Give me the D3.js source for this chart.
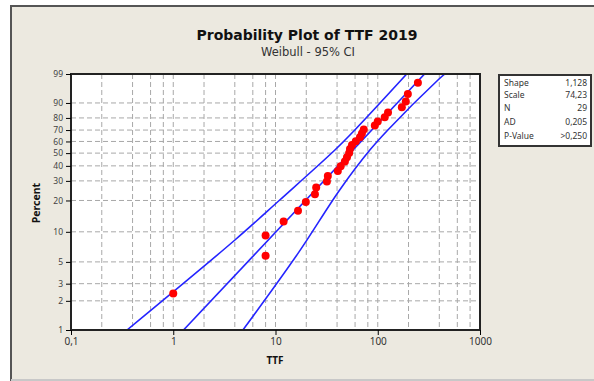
<!DOCTYPE html>
<html>
<head>
<meta charset="utf-8">
<script src="https://cdn.jsdelivr.net/npm/d3@7"></script>
<style>
  body { margin: 0; background: #fff; }
  svg { display: block; font-family: 'Noto Sans', sans-serif; }
</style>
</head>
<body>
<svg width="594" height="381"></svg>
<script>
// failure times (TTF) and median-rank percents
const ttf = [1, 8, 8, 12, 16.6, 19.8, 24.3, 25, 31.8, 32.5, 40.7, 43.4, 47.7, 50, 52.5,
    53.5, 56, 61, 67, 70, 73, 93.6, 100, 117, 126, 172, 188, 197, 247];
const pct = [2.38, 5.78, 9.18, 12.59, 15.99, 19.39, 22.79, 26.19, 29.59, 32.99, 36.39, 39.8,
    43.2, 46.6, 50, 53.4, 56.8, 60.2, 63.61, 67.01, 70.41, 73.81, 77.21, 80.61, 84.01,
    87.41, 90.82, 94.22, 97.62];

// fitted line and confidence bands, [TTF, percent]
const fitLine = [[1.26, 1], [287, 99]];
const upperCI = [[0.353, 1], [4.01, 8.3], [11, 20.2], [38.1, 52.6], [59.7, 70.1], [192, 99]];
const lowerCI = [[4.8, 1], [16.6, 6.1], [42.6, 25.1], [83.7, 52.6], [125.6, 70.1], [386, 98.1], [453, 99]];

const yTicks = [1, 2, 3, 5, 10, 20, 30, 40, 50, 60, 70, 80, 90, 99];
const xTicks = [0.1, 1, 10, 100, 1000];
const xGrid = [0.2, 0.4, 0.6, 0.8, 1, 2, 4, 6, 8, 10, 20, 40, 60, 80, 100, 200, 400, 600, 800];

const statNames = ['Shape', 'Scale', 'N', 'AD', 'P-Value'];
const statValues = ['1,128', '74,23', '29', '0,205', '>0,250'];

const svg = d3.select('svg');
const pl = 71, pr = 480, pt = 74, pb = 330;

// weibull probability scale
const wb = p => Math.log(-Math.log(1 - p / 100));
const x = d3.scaleLog().domain([0.1, 1000]).range([pl, pr]);
const yw = d3.scaleLinear().domain([wb(1), wb(99)]).range([pb, pt]);
const y = p => yw(wb(p));

// panel
svg.append('rect')
    .attr('x', 11).attr('y', 6).attr('width', 600).attr('height', 374)
    .attr('fill', '#ece9e0')
    .attr('stroke', '#555').attr('stroke-width', 2);
svg.append('line')
    .attr('x1', 11).attr('x2', 594).attr('y1', 380).attr('y2', 380)
    .attr('stroke', '#c8c8c8').attr('stroke-width', 2);

svg.append('text')
    .attr('x', 307).attr('y', 40)
    .attr('text-anchor', 'middle')
    .attr('font-family', 'DejaVu Sans')
    .attr('font-weight', 'bold').attr('font-size', 14)
    .attr('fill', '#111')
    .text('Probability Plot of TTF 2019');
svg.append('text')
    .attr('x', 308).attr('y', 56)
    .attr('text-anchor', 'middle')
    .attr('font-family', 'DejaVu Sans')
    .attr('font-size', 11.5)
    .attr('fill', '#333')
    .text('Weibull - 95% CI');

svg.append('rect')
    .attr('x', pl).attr('y', pt)
    .attr('width', pr - pl).attr('height', pb - pt)
    .attr('fill', '#fff');

svg.append('clipPath').attr('id', 'clip')
    .append('rect')
    .attr('x', pl).attr('y', pt)
    .attr('width', pr - pl).attr('height', pb - pt);

// grid
const grid = svg.append('g')
    .attr('stroke', '#a8a8a8')
    .attr('stroke-dasharray', '5,3');
grid.selectAll('.gy')
    .data(yTicks.filter(d => d > 1 && d < 99))
    .enter().append('line')
    .attr('x1', pl).attr('x2', pr)
    .attr('y1', d => y(d)).attr('y2', d => y(d));
grid.selectAll('.gx')
    .data(xGrid)
    .enter().append('line')
    .attr('x1', d => x(d)).attr('x2', d => x(d))
    .attr('y1', pt).attr('y2', pb);

// fit and CI
const line = d3.line().x(d => x(d[0])).y(d => y(d[1])).curve(d3.curveCatmullRom);
const lines = svg.append('g').attr('clip-path', 'url(#clip)');
[fitLine, upperCI, lowerCI].forEach(s => {
    lines.append('path')
        .attr('d', line(s))
        .attr('fill', 'none')
        .attr('stroke', '#2424ff')
        .attr('stroke-width', 1.6);
});

// points
svg.append('g')
    .selectAll('circle')
    .data(ttf)
    .enter().append('circle')
    .attr('cx', d => x(d))
    .attr('cy', (d, i) => y(pct[i]))
    .attr('r', 4)
    .attr('fill', '#ff0000');

// frame
svg.append('rect')
    .attr('x', pl).attr('y', pt)
    .attr('width', pr - pl).attr('height', pb - pt)
    .attr('fill', 'none')
    .attr('stroke', '#222').attr('stroke-width', 2);

// axes
const yAxis = svg.append('g')
    .attr('transform', 'translate(' + pl + ',0)')
    .call(d3.axisLeft(yw).tickValues(yTicks.map(wb)).tickFormat((d, i) => yTicks[i]).tickSize(5).tickPadding(3));
yAxis.select('.domain').remove();
yAxis.selectAll('text').attr('font-size', 8.5).attr('fill', '#444').attr('font-family', 'Noto Sans');

const xAxis = svg.append('g')
    .attr('transform', 'translate(0,' + pb + ')')
    .call(d3.axisBottom(x).tickValues(xTicks).tickFormat(d => String(d).replace('.', ',')).tickSize(5).tickPadding(3));
xAxis.select('.domain').remove();
xAxis.selectAll('text').attr('font-size', 10).attr('fill', '#333').attr('font-family', 'Noto Sans');

svg.append('text')
    .attr('x', 275).attr('y', 364)
    .attr('text-anchor', 'middle')
    .attr('font-weight', 'bold').attr('font-size', 10)
    .attr('fill', '#111')
    .text('TTF');
svg.append('text')
    .attr('transform', 'translate(40,203)rotate(-90)')
    .attr('text-anchor', 'middle')
    .attr('font-weight', 'bold').attr('font-size', 10.5)
    .attr('fill', '#111')
    .text('Percent');

// stats box
const box = svg.append('g');
box.append('rect')
    .attr('x', 499).attr('y', 75).attr('width', 92).attr('height', 71)
    .attr('fill', '#fff')
    .attr('stroke', '#333').attr('stroke-width', 2);
const rowY = [86, 98, 111, 125, 139];
box.selectAll('.sn')
    .data(statNames)
    .enter().append('text')
    .attr('x', 504).attr('y', (d, i) => rowY[i])
    .attr('font-size', 8.5).attr('fill', '#333')
    .text(d => d);
box.selectAll('.sv')
    .data(statValues)
    .enter().append('text')
    .attr('x', 587).attr('y', (d, i) => rowY[i])
    .attr('text-anchor', 'end')
    .attr('font-size', 8.5).attr('fill', '#333')
    .text(d => d);
</script>
</body>
</html>
